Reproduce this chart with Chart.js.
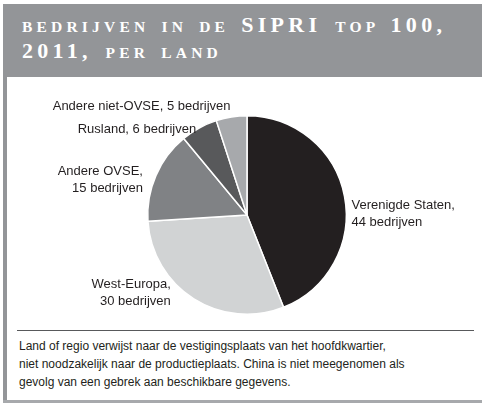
<!DOCTYPE html>
<html>
<head>
<meta charset="utf-8">
<script src="https://cdn.jsdelivr.net/npm/chart.js@4/dist/chart.umd.min.js"></script>
<style>
  body { margin: 0; background: #fff; width: 482px; height: 404px; position: relative; overflow: hidden; }
  .header { position: absolute; left: 3px; top: 4px; width: 479px; height: 73px; background: #939598; }
  .title {
    position: absolute; left: 22px; top: 13px; color: #fff; white-space: nowrap;
    font-family: "Liberation Serif", serif; font-weight: bold; line-height: 24px;
    word-spacing: 4px;
  }
  .sc { font-size: 15.5px; letter-spacing: 4.2px; }
  .big { font-size: 22px; letter-spacing: 4.3px; }
  .frame-left { position: absolute; left: 3px; top: 77px; width: 4px; height: 324px; background: #939598; }
  .frame-bottom { position: absolute; left: 3px; top: 400px; width: 479px; height: 3px; background: #a7a9ac; }
  .rule { position: absolute; left: 17px; top: 330px; width: 457px; height: 1px; background: #58595b; }
  .note {
    position: absolute; left: 19px; top: 337px; color: #231f20;
    font-family: "Liberation Sans", Arial, sans-serif; font-size: 12px; line-height: 18px;
  }
  #chart { position: absolute; left: 0; top: 0; }
</style>
</head>
<body>
<div class="header"></div>
<div class="title"><span class="sc">BEDRIJVEN IN DE </span><span class="big">SIPRI </span><span class="sc">TOP </span><span class="big">100,</span><br><span class="big">2011, </span><span class="sc">PER LAND</span></div>
<div class="frame-left"></div>
<div class="frame-bottom"></div>
<div class="rule"></div>
<div class="note">Land of regio verwijst naar de vestigingsplaats van het hoofdkwartier,<br>niet noodzakelijk naar de productieplaats. China is niet meegenomen als<br>gevolg van een gebrek aan beschikbare gegevens.</div>
<canvas id="chart" width="482" height="404"></canvas>

<script>
// regions, clockwise from the top
const regions = ["Verenigde Staten", "West-Europa", "Andere OVSE", "Rusland", "Andere niet-OVSE"];
const companies = [44, 30, 15, 6, 5];
const sliceColors = ["#231f20", "#d1d3d4", "#808285", "#58595b", "#a7a9ac"];

// where each label sits relative to the rim point at the slice middle
const labelPlace = [
    { dx: 7, dy: 9, align: "left", wrap: true },
    { dx: -23, dy: -14, align: "right", wrap: true },
    { dx: -13, dy: -4, align: "right", wrap: true },
    { dx: -3, dy: 1, align: "right", wrap: false },
    { dx: -1, dy: -11, align: "right", wrap: false },
];

const sliceLabels = {
    id: "sliceLabels",
    afterDatasetsDraw(chart) {
        const ctx = chart.ctx;
        const arcs = chart.getDatasetMeta(0).data;
        ctx.save();
        ctx.font = "13px 'Liberation Sans', Arial, sans-serif";
        ctx.fillStyle = "#231f20";
        ctx.textBaseline = "middle";
        arcs.forEach((arc, i) => {
            const p = labelPlace[i];
            const mid = (arc.startAngle + arc.endAngle) / 2;
            const x = arc.x + Math.cos(mid) * arc.outerRadius + p.dx;
            const y = arc.y + Math.sin(mid) * arc.outerRadius + p.dy;
            const lines = p.wrap
                ? [regions[i] + ",", companies[i] + " bedrijven"]
                : [regions[i] + ", " + companies[i] + " bedrijven"];
            ctx.textAlign = p.align;
            lines.forEach((t, j) => ctx.fillText(t, x, y + j * 17));
        });
        ctx.restore();
    },
};

new Chart(document.getElementById("chart"), {
    type: "pie",
    data: {
        labels: regions,
        datasets: [
            {
                data: companies,
                backgroundColor: sliceColors,
                borderColor: "#ffffff",
                borderWidth: 1.5,
            },
        ],
    },
    options: {
        responsive: false,
        animation: false,
        layout: { padding: { left: 147, right: 135, top: 115, bottom: 89 } },
        plugins: {
            legend: { display: false },
            tooltip: { enabled: false },
        },
    },
    plugins: [sliceLabels],
});
</script>
</body>
</html>
